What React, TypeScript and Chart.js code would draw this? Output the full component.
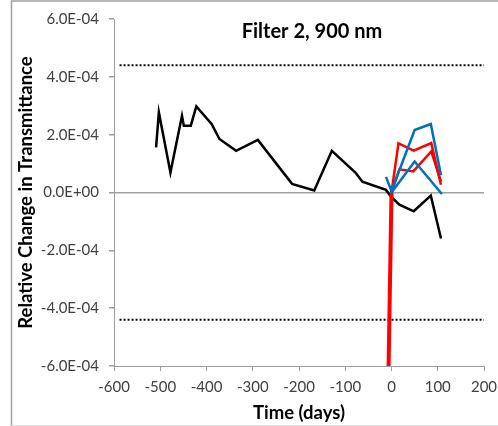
import React, { useEffect, useRef } from "react";
import { Chart, registerables } from "chart.js";

Chart.register(...registerables);

// ---- data ----
const blackDays = [-509, -503, -478, -453, -449, -434, -422, -389, -372, -336, -289, -215, -167, -129, -78, -63, -12, -1, 17, 48, 85, 107];
const blackValues = [1.56e-4, 2.77e-4, 0.69e-4, 2.65e-4, 2.31e-4, 2.31e-4, 2.98e-4, 2.37e-4, 1.85e-4, 1.44e-4, 1.82e-4, 0.3e-4, 0.07e-4, 1.44e-4, 0.69e-4, 0.37e-4, 0.09e-4, -0.14e-4, -0.42e-4, -0.65e-4, -0.11e-4, -1.59e-4];

const redUpperDays = [0, 15, 48, 86, 107];
const redUpperValues = [0, 1.7e-4, 1.45e-4, 1.71e-4, 0.27e-4];

const redLowerDays = [0, 17, 47, 86, 107];
const redLowerValues = [0, 0.8e-4, 0.73e-4, 1.42e-4, 0.38e-4];

const redDropDays = [-10, 0];
const redDropValues = [-9.5e-4, 0];

const blueUpperDays = [-12, 0, 50, 85, 107];
const blueUpperValues = [0.54e-4, 0.05e-4, 2.16e-4, 2.37e-4, 0.6e-4];

const blueLowerDays = [0, 50, 109];
const blueLowerValues = [0, 1.07e-4, -0.05e-4];

const limitDays = [-588, 200];
const upperLimitValues = [4.4e-4, 4.4e-4];
const lowerLimitValues = [-4.4e-4, -4.4e-4];

const xTickValues = [-600, -500, -400, -300, -200, -100, 0, 100, 200];
const yTickValues = [-6e-4, -4e-4, -2e-4, 0, 2e-4, 4e-4, 6e-4];

const chartTitle = "Filter 2, 900 nm";
const xTitle = "Time (days)";
const yTitle = "Relative Change in Transmittance";

const pts = (xs: number[], ys: number[]) => xs.map((x, i) => ({ x, y: ys[i] }));

const fmtExp = (v: number) => {
  if (Math.abs(v) < 1e-12) v = 0;
  const s = v.toExponential(1);
  const [m, e] = s.split("e");
  const sign = e[0] === "-" ? "-" : "+";
  const digits = e.replace(/[+-]/, "").padStart(2, "0");
  return m + "E" + sign + digits;
};

const FONT = "Lato, 'Open Sans', sans-serif";
const AXIS_GRAY = "#9d9d9d";
const BLUE = "#0070C0";
const RED = "#FF0000";

export default function App() {
  const ref = useRef<HTMLCanvasElement | null>(null);

  useEffect(() => {
    if (!ref.current) return;

    const framePlugin = {
      id: "frameAndTitle",
      beforeDraw(chart: any) {
        const c = chart.ctx;
        c.save();
        c.fillStyle = "#ffffff";
        c.fillRect(0, 0, chart.width, chart.height);
        c.strokeStyle = "#a0a0a0";
        c.lineWidth = 1.5;
        c.beginPath();
        c.moveTo(11.5, chart.height);
        c.lineTo(11.5, 1);
        c.lineTo(chart.width, 1);
        c.stroke();
        c.strokeStyle = "#e0e0e0";
        c.lineWidth = 1;
        c.beginPath();
        c.moveTo(11.5, chart.height - 0.5);
        c.lineTo(chart.width, chart.height - 0.5);
        c.stroke();
        c.restore();
      },
      afterDraw(chart: any) {
        const c = chart.ctx;
        const a = chart.chartArea;
        c.save();
        c.fillStyle = "#000000";
        c.font = `bold 20px ${FONT}`;
        c.textAlign = "center";
        c.textBaseline = "middle";
        c.fillText(chartTitle, a.left + (a.right - a.left) * 0.535, a.top + 13);
        c.restore();
      },
    };

    const chart = new Chart(ref.current, {
      type: "line",
      data: {
        datasets: [
          { data: pts(blueUpperDays, blueUpperValues), borderColor: BLUE, borderWidth: 2.5, pointRadius: 0, order: 0 },
          { data: pts(blueLowerDays, blueLowerValues), borderColor: BLUE, borderWidth: 2.5, pointRadius: 0, order: 0 },
          { data: pts(redUpperDays, redUpperValues), borderColor: RED, borderWidth: 2.5, pointRadius: 0, order: 1 },
          { data: pts(redLowerDays, redLowerValues), borderColor: RED, borderWidth: 2.5, pointRadius: 0, order: 1 },
          { data: pts(redDropDays, redDropValues), borderColor: RED, borderWidth: 4, pointRadius: 0, order: 1 },
          { data: pts(blackDays, blackValues), borderColor: "#000000", borderWidth: 2.5, pointRadius: 0, order: 2 },
          { data: pts(limitDays, upperLimitValues), borderColor: "#000000", borderWidth: 2, borderDash: [2, 2], borderCapStyle: "butt", pointRadius: 0, order: 3 },
          { data: pts(limitDays, lowerLimitValues), borderColor: "#000000", borderWidth: 2, borderDash: [2, 2], borderCapStyle: "butt", pointRadius: 0, order: 3 },
        ] as any,
      },
      options: {
        animation: false,
        responsive: false,
        maintainAspectRatio: false,
        layout: { padding: { left: 12, top: 19, right: 0, bottom: 0 } },
        plugins: { legend: { display: false }, tooltip: { enabled: false }, title: { display: false } },
        elements: { line: { tension: 0, borderJoinStyle: "miter" } },
        scales: {
          x: {
            type: "linear",
            min: -600,
            max: 200,
            afterBuildTicks: (s: any) => { s.ticks = xTickValues.map((v) => ({ value: v })); },
            afterFit: (s: any) => { s.height = 60; s.paddingRight = 14; s.paddingLeft = 0; },
            grid: { drawOnChartArea: false, drawTicks: true, tickLength: 5, tickColor: AXIS_GRAY, color: AXIS_GRAY },
            border: { display: true, color: AXIS_GRAY, width: 1 },
            ticks: { font: { family: FONT, size: 15 }, color: "#404040", padding: 7, maxRotation: 0, autoSkip: false },
            title: { display: true, text: xTitle, font: { family: FONT, size: 18.5, weight: "bold" }, color: "#000", padding: { top: 0, bottom: 2 } },
          },
          y: {
            type: "linear",
            min: -6e-4,
            max: 6e-4,
            afterBuildTicks: (s: any) => { s.ticks = yTickValues.map((v) => ({ value: v })); },
            afterFit: (s: any) => { s.width = 102; },
            grid: {
              drawTicks: true,
              tickLength: 5,
              tickColor: AXIS_GRAY,
              lineWidth: 1.5,
              color: (ctx: any) => (ctx.tick && Math.abs(ctx.tick.value) < 1e-12 ? "#a0a0a0" : "rgba(0,0,0,0)"),
            },
            border: { display: true, color: AXIS_GRAY, width: 1 },
            ticks: { font: { family: FONT, size: 15 }, color: "#404040", padding: 10, callback: (v: any) => fmtExp(Number(v)), autoSkip: false },
            title: { display: true, text: yTitle, font: { family: FONT, size: 18.5, weight: "bold" }, color: "#000", padding: { top: 3, bottom: 0 } },
          },
        },
      } as any,
      plugins: [framePlugin],
    });

    return () => chart.destroy();
  }, []);

  return (
    <div style={{ position: "absolute", left: 0, top: 0, width: 498, height: 426 }}>
      <canvas ref={ref} width={498} height={426} style={{ display: "block", width: 498, height: 426 }} />
    </div>
  );
}
